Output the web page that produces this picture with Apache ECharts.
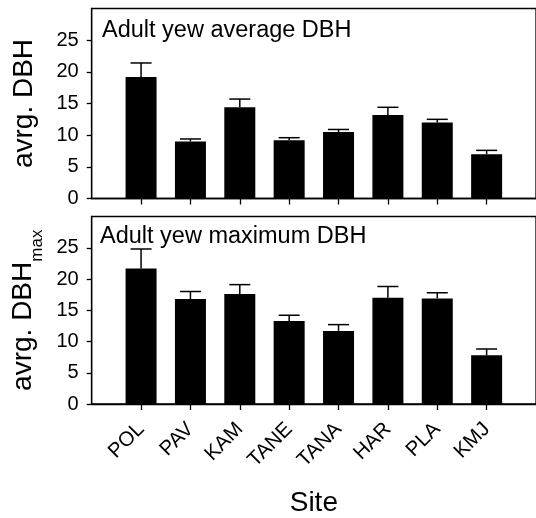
<!DOCTYPE html>
<html>
<head>
<meta charset="utf-8">
<script src="https://cdn.jsdelivr.net/npm/echarts@6/dist/echarts.min.js"></script>
<style>
  html, body { margin: 0; padding: 0; background: #fff; }
  #chart { width: 536px; height: 518px; }
</style>
</head>
<body>
<div id="chart"></div>
<script>
// Sampling sites along the x axis
const sites = ['POL', 'PAV', 'KAM', 'TANE', 'TANA', 'HAR', 'PLA', 'KMJ'];

// Mean DBH per site and its standard error
const avgDBH    = [19.2, 9.0, 14.4, 9.2, 10.5, 13.2, 12.0, 7.0];
const avgDBHErr = [2.2, 0.4, 1.3, 0.4, 0.4, 1.2, 0.5, 0.6];

// Mean of maximum DBH per site and its standard error
const maxDBH    = [21.7, 16.8, 17.6, 13.3, 11.7, 17.0, 16.9, 7.8];
const maxDBHErr = [3.1, 1.2, 1.5, 0.9, 1.0, 1.8, 0.9, 1.0];

// Y tick values shown on both panels
const yTicks = [0, 5, 10, 15, 20, 25];

const FONT = "'Liberation Sans', Arial, Helvetica, sans-serif";
const sitePos = sites.map((s, i) => i + 1);

function barData(vals) { return vals.map((v, i) => [i + 1, v]); }
function errData(vals, errs) { return vals.map((v, i) => [i + 1, v, v + errs[i]]); }

// Upper-only error bar: stem from the bar top plus a horizontal cap
function renderErrorBar(params, api) {
  const x = api.value(0);
  const base = api.coord([x, api.value(1)]);
  const top = api.coord([x, api.value(2)]);
  const half = 10.5;
  const style = { stroke: '#000', lineWidth: 1.5 };
  return {
    type: 'group',
    children: [
      { type: 'line', shape: { x1: base[0], y1: base[1], x2: top[0], y2: top[1] }, style },
      { type: 'line', shape: { x1: top[0] - half, y1: top[1], x2: top[0] + half, y2: top[1] }, style }
    ]
  };
}

function xAxisFor(gridIndex, withLabels) {
  return {
    type: 'value', gridIndex, min: 0, max: 9,
    splitLine: { show: false },
    axisLine: { show: true, lineStyle: { color: '#000', width: 1.3 } },
    axisTick: { show: true, customValues: sitePos, length: 6, lineStyle: { color: '#000', width: 1.3 } },
    axisLabel: withLabels ? {
      show: true, customValues: sitePos,
      formatter: v => sites[Math.round(v) - 1] || '',
      rotate: 45, fontSize: 20.5, color: '#000', fontFamily: FONT, margin: 22,
      padding: [0, 0, 0, 0]
    } : { show: false },
    name: withLabels ? 'Site' : '',
    nameLocation: 'middle',
    nameGap: 85,
    nameTextStyle: { fontSize: 28, color: '#000', fontFamily: FONT }
  };
}

function yAxisFor(gridIndex, name, gap) {
  return {
    type: 'value', gridIndex, min: 0, max: 30, interval: 5,
    splitLine: { show: false },
    axisLine: { show: true, lineStyle: { color: '#000', width: 1.3 } },
    axisTick: { show: true, customValues: yTicks, length: 5, lineStyle: { color: '#000', width: 1.3 } },
    axisLabel: { customValues: yTicks, fontSize: 20, color: '#000', fontFamily: FONT, margin: 13 },
    name,
    nameLocation: 'middle',
    nameRotate: 90,
    nameGap: gap,
    nameTextStyle: {
      fontSize: 28, color: '#000', fontFamily: FONT,
      rich: {
        a: { fontSize: 28, fontFamily: FONT, color: '#000', lineHeight: 30, verticalAlign: 'top' },
        s: { fontSize: 17, fontFamily: FONT, color: '#000', lineHeight: 17, padding: [19, 0, 0, 0], verticalAlign: 'top' }
      }
    }
  };
}

const chart = echarts.init(document.getElementById('chart'), null, { renderer: 'canvas' });
chart.setOption({
  animation: false,
  backgroundColor: '#fff',
  textStyle: { fontFamily: FONT },
  title: [
    { text: 'Adult yew average DBH', left: 97, top: 14,
      textStyle: { fontSize: 23.5, fontWeight: 'normal', color: '#000', fontFamily: FONT } },
    { text: 'Adult yew maximum DBH', left: 95, top: 220,
      textStyle: { fontSize: 23.5, fontWeight: 'normal', color: '#000', fontFamily: FONT } }
  ],
  grid: [
    { left: 91.7, top: 8.5, width: 454, height: 190, show: true, borderColor: '#000', borderWidth: 1.3, backgroundColor: 'transparent' },
    { left: 91.7, top: 216.5, width: 454, height: 189.5, show: true, borderColor: '#000', borderWidth: 1.3, backgroundColor: 'transparent' }
  ],
  xAxis: [xAxisFor(0, false), xAxisFor(1, true)],
  yAxis: [yAxisFor(0, 'avrg. DBH', 53), yAxisFor(1, '{a|avrg. DBH}{s|max}', 47)],
  series: [
    { type: 'bar', xAxisIndex: 0, yAxisIndex: 0, barWidth: 31, data: barData(avgDBH),
      itemStyle: { color: '#000' }, z: 2 },
    { type: 'custom', xAxisIndex: 0, yAxisIndex: 0, renderItem: renderErrorBar,
      encode: { x: 0, y: [1, 2] }, data: errData(avgDBH, avgDBHErr), z: 3 },
    { type: 'bar', xAxisIndex: 1, yAxisIndex: 1, barWidth: 31, data: barData(maxDBH),
      itemStyle: { color: '#000' }, z: 2 },
    { type: 'custom', xAxisIndex: 1, yAxisIndex: 1, renderItem: renderErrorBar,
      encode: { x: 0, y: [1, 2] }, data: errData(maxDBH, maxDBHErr), z: 3 }
  ]
});
</script>
</body>
</html>
